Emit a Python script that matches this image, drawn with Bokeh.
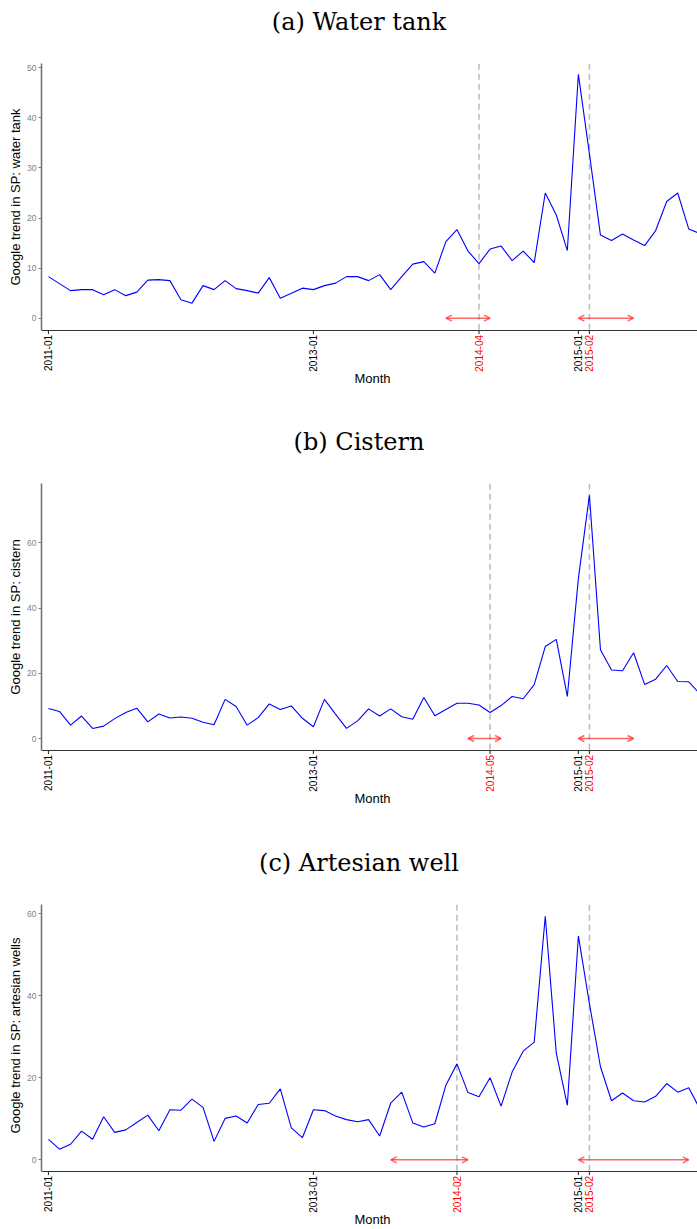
import math
from bokeh.plotting import figure
from bokeh.layouts import column
from bokeh.models import Range1d, FixedTicker, Arrow, OpenHead, ColumnDataSource
from bokeh.core.properties import value
from bokeh.embed import file_html
from bokeh.resources import INLINE

# ---- data (monthly, 2011-01 .. 2015-12) ----
months = [f"{y}-{m:02d}" for y in range(2011, 2016) for m in range(1, 13)]

water_tank = [8.3, 6.9, 5.5, 5.7, 5.7, 4.7, 5.7, 4.5, 5.2, 7.6, 7.7, 7.5,
              3.7, 3.0, 6.5, 5.7, 7.5, 5.9, 5.5, 5.0, 8.1, 4.0, 5.0, 6.0,
              5.7, 6.5, 7.0, 8.3, 8.3, 7.5, 8.7, 5.7, 8.3, 10.8, 11.3, 9.0,
              15.3, 17.7, 13.4, 10.9, 13.8, 14.4, 11.5, 13.4, 11.1, 25.0, 20.6, 13.5,
              48.7, 32.8, 16.6, 15.5, 16.8, 15.6, 14.5, 17.5, 23.3, 25.0, 17.8, 16.9]

cistern = [9.2, 8.3, 4.1, 6.9, 3.1, 3.8, 6.1, 8.0, 9.3, 5.1, 7.5, 6.3,
           6.6, 6.2, 5.0, 4.2, 12.0, 9.8, 4.1, 6.4, 10.6, 8.9, 10.0, 6.2,
           3.6, 12.0, 7.5, 3.1, 5.4, 9.1, 6.9, 9.1, 6.7, 5.9, 12.6, 7.0,
           8.9, 10.8, 10.8, 10.3, 8.0, 10.1, 12.9, 12.2, 16.5, 28.2, 30.4, 12.9,
           49.1, 74.6, 27.2, 21.0, 20.8, 26.3, 16.6, 18.2, 22.4, 17.5, 17.4, 13.7]

artesian = [5.0, 2.6, 3.8, 7.0, 5.0, 10.5, 6.7, 7.3, 9.1, 10.9, 7.1, 12.2,
            12.1, 14.8, 12.8, 4.5, 10.1, 10.7, 9.0, 13.5, 13.8, 17.3, 7.8, 5.4,
            12.2, 12.0, 10.7, 9.8, 9.3, 9.8, 5.8, 13.8, 16.5, 9.0, 8.0, 8.8,
            18.2, 23.4, 16.4, 15.4, 20.0, 13.1, 21.4, 26.5, 28.7, 59.4, 26.0, 13.3,
            54.6, 38.1, 22.7, 14.4, 16.3, 14.4, 14.1, 15.5, 18.6, 16.5, 17.6, 12.4]

titles = ["(a) Water tank", "(b) Cistern", "(c) Artesian well"]
ylabels = ["Google trend in SP: water tank", "Google trend in SP: cistern",
           "Google trend in SP: artesian wells"]
year_ticks = ["2011-01", "2013-01", "2015-01"]
event1 = ["2014-04", "2014-05", "2014-02"]
event2 = ["2015-02", "2015-02", "2015-02"]
arrow1 = [("2014-01", "2014-05"), ("2014-03", "2014-06"), ("2013-08", "2014-03")]
arrow2 = [("2015-01", "2015-06"), ("2015-01", "2015-06"), ("2015-01", "2015-11")]
y_ticks = [[0, 10, 20, 30, 40, 50], [0, 20, 40, 60], [0, 20, 40, 60]]
y_ranges = [(-2.46, 50.8), (-3.67, 78.1), (-2.85, 62.2)]   # (axis value, top value)

FONT = "Liberation Sans"
LEFT, FRAME_W = 41, 656
TOP_PX, AXIS_PX = 63.3, 330.0        # plot-panel top and x-axis line (px from panel top)
x_lo, x_hi = -0.63, 58.79


def make_panel(k, frame_h, bottom):
    series = [water_tank, cistern, artesian][k]
    idx = list(range(len(series)))
    y_ax, y_top = y_ranges[k]
    upp = (y_top - y_ax) / (AXIS_PX - TOP_PX)

    def ydat(py):
        return y_top - (py - TOP_PX) * upp

    def xdat(px):
        return x_lo + (px - LEFT) / FRAME_W * (x_hi - x_lo)

    p = figure(frame_width=FRAME_W, frame_height=frame_h,
               min_border_left=LEFT, min_border_right=0, min_border_top=0,
               min_border_bottom=bottom,
               x_range=Range1d(x_lo, x_hi), y_range=Range1d(ydat(frame_h), ydat(0)),
               output_backend="svg", toolbar_location=None,
               background_fill_color="white", border_fill_color="white")
    p.outline_line_color = None
    p.grid.visible = False
    p.xaxis.visible = False

    # title
    p.text(x=[xdat(358.5)], y=[ydat(21.0)], text=[titles[k]],
           text_font=value("DejaVu Serif"), text_font_size="24px",
           text_align="center", text_baseline="middle", text_color="black")

    e1 = months.index(event1[k])
    e2 = months.index(event2[k])

    # event dashed lines
    p.segment(x0=[e1, e2], y0=[y_top, y_top], x1=[e1, e2], y1=[y_ax, y_ax],
              line_color="#BEBEBE", line_width=1.6, line_dash="6 4")

    # data line
    p.line(idx, series, line_color="#0000FF", line_width=1.1)

    # arrows at y = 0
    for a, b in (arrow1[k], arrow2[k]):
        xa, xb = months.index(a), months.index(b)
        p.add_layout(Arrow(x_start=xa, x_end=xb, y_start=0, y_end=0,
                           line_color="#FF0000", line_alpha=0.6, line_width=1.5,
                           start=OpenHead(size=6, line_color="#FF0000", line_alpha=0.6, line_width=1.5),
                           end=OpenHead(size=6, line_color="#FF0000", line_alpha=0.6, line_width=1.5)))

    # x axis drawn in the frame
    p.segment(x0=[x_lo], y0=[y_ax], x1=[x_hi], y1=[y_ax], line_color="#333333", line_width=1.2)
    xt = [months.index(t) for t in year_ticks]
    tick_x = xt + [e1, e2]
    tick_lab = year_ticks + [event1[k], event2[k]]
    tick_col = ["black"] * len(xt) + ["#FF0000", "#FF0000"]
    p.segment(x0=tick_x, y0=[y_ax] * len(tick_x), x1=tick_x, y1=[ydat(AXIS_PX + 3.5)] * len(tick_x),
              line_color="#333333", line_width=1.1)
    src = ColumnDataSource(dict(x=tick_x, y=[ydat(AXIS_PX + 4.5)] * len(tick_x),
                                t=tick_lab, c=tick_col))
    p.text(x="x", y="y", text="t", text_color="c", source=src, angle=math.pi / 2,
           text_align="right", text_baseline="middle",
           text_font=value(FONT), text_font_size="10px")
    p.text(x=[xdat(372)], y=[ydat(378.0)], text=["Month"], text_font=value(FONT),
           text_font_size="13px", text_align="center", text_baseline="middle",
           text_color="black")

    # y axis
    p.yaxis.bounds = (y_ax, y_top)
    p.yaxis.ticker = FixedTicker(ticks=y_ticks[k])
    p.yaxis.major_label_text_font = FONT
    p.yaxis.major_label_text_font_size = "8.5px"
    p.yaxis.major_label_text_color = "#7F7F7F"
    p.yaxis.major_label_standoff = 2
    p.yaxis.major_tick_out = 3
    p.yaxis.major_tick_in = 0
    p.yaxis.minor_tick_line_color = None
    p.yaxis.axis_line_color = "#6E6E6E"
    p.yaxis.axis_line_width = 1.5
    p.yaxis.major_tick_line_color = "#7F7F7F"
    p.yaxis.axis_label = ylabels[k]
    p.yaxis.axis_label_text_font = FONT
    p.yaxis.axis_label_text_font_size = "13px"
    p.yaxis.axis_label_text_font_style = "normal"
    p.yaxis.axis_label_text_color = "black"
    p.yaxis.axis_label_standoff = 1
    return p


p1 = make_panel(0, 393, 27)
p2 = make_panel(1, 393, 28)
p3 = make_panel(2, 388, 0)
layout = column(p1, p2, p3, spacing=0)

open("out.html", "w").write(file_html(layout, INLINE))
